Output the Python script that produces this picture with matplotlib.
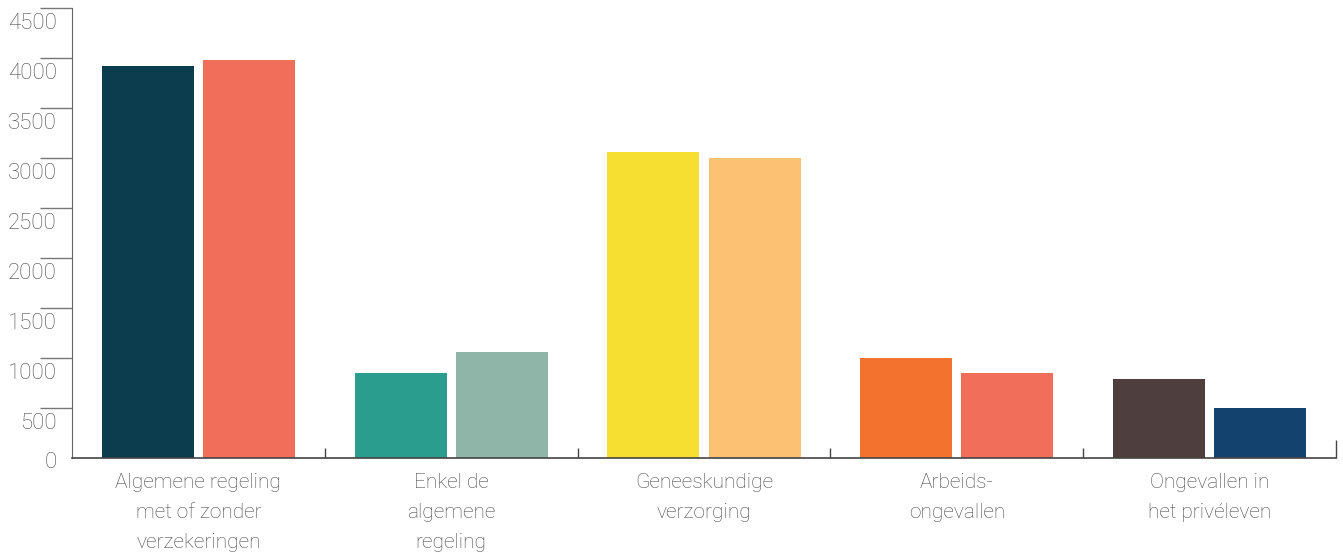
import matplotlib.pyplot as plt
from matplotlib.transforms import ScaledTranslation

categories = ['Algemene regeling\nmet of zonder\nverzekeringen',
              'Enkel de\nalgemene\nregeling',
              'Geneeskundige\nverzorging',
              'Arbeids-\nongevallen',
              'Ongevallen in\nhet privéleven']
first_values = [3920, 850, 3060, 1000, 790]
second_values = [3980, 1060, 3000, 850, 500]
first_colors = ['#0b3d4f', '#2a9d8f', '#f7df31', '#f3732e', '#4e3e3e']
second_colors = ['#f16e5a', '#8fb5a8', '#fdc173', '#f16e5a', '#13426e']
y_ticks = [0, 500, 1000, 1500, 2000, 2500, 3000, 3500, 4000, 4500]

plt.rcParams['font.family'] = ['Roboto', 'DejaVu Sans']

fig = plt.figure(figsize=(13.43, 5.53), dpi=100)
ax = fig.add_axes([0.0536, 0.1718, 0.9412, 0.8137])

centers = [i + 0.5 for i in range(len(categories))]
w = 0.364
ax.bar([c - 0.2 for c in centers], first_values, width=w, color=first_colors, zorder=2)
ax.bar([c + 0.2 for c in centers], second_values, width=w, color=second_colors, zorder=2)

ax.set_xlim(0, 5)
ax.set_ylim(0, 4500)

for s in ['top', 'right']:
    ax.spines[s].set_visible(False)
ax.spines['left'].set_color('#666666')
ax.spines['bottom'].set_color('#444444')
ax.spines['bottom'].set_linewidth(1.2)

# category separators along the baseline
ax.set_xticks([1, 2, 3, 4, 5])
ax.set_xticklabels([])
ax.tick_params(axis='x', direction='in', length=7.2, color='#444444', width=1)
ax.xaxis.get_major_ticks()[-1].tick1line.set_markersize(13)

for c, label in zip(centers, categories):
    ax.text(c, -150, label, ha='center', va='top', fontsize=15, color='#4a4a4a',
            linespacing=1.72, fontweight='light')

ax.set_yticks(y_ticks)
ax.set_yticklabels([str(t) for t in y_ticks])
ax.tick_params(axis='y', direction='out', length=23, color='#777777', width=1,
               pad=-12.2, labelsize=16, labelcolor='#4a4a4a')
for t, lab in zip(y_ticks, ax.get_yticklabels()):
    lab.set_fontweight('light')
    dy = -1.5 / 72 if t == 0 else -9.7 / 72
    lab.set_transform(lab.get_transform() + ScaledTranslation(0, dy, fig.dpi_scale_trans))
ax.yaxis.get_major_ticks()[0].tick1line.set_visible(False)

fig.savefig('out.png', dpi=100)
